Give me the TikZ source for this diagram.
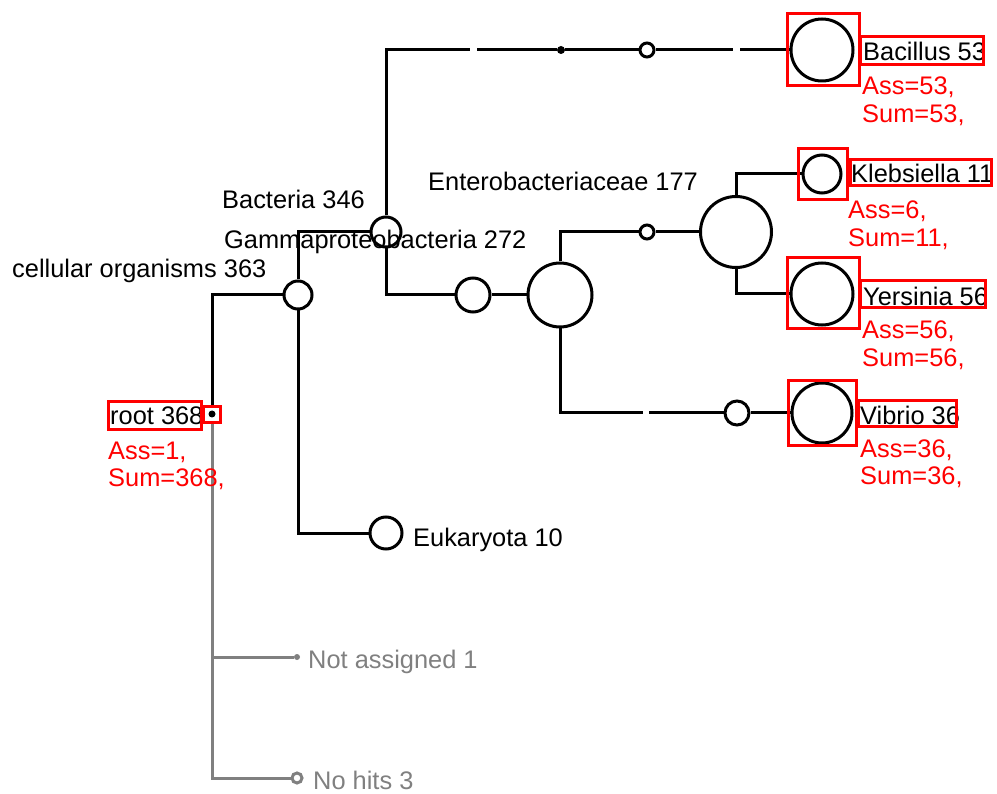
\documentclass[tikz,border=0pt]{standalone}
\usepackage{fontspec}
\setmainfont{Liberation Sans}
\definecolor{boxred}{RGB}{255,0,0}
\definecolor{hitgray}{RGB}{128,128,128}
\tikzset{
  tn/.style={circle, draw=black, line width=3pt, fill=white, inner sep=0pt},
  conn/.style={draw=black, line width=3pt},
  gconn/.style={draw=hitgray, line width=3pt},
  lbl/.style={anchor=base west, inner sep=0pt, font=\fontsize{25.4}{28}\selectfont},
  rlbl/.style={lbl, text=boxred},
  glbl/.style={lbl, text=hitgray},
  redbox/.style={draw=boxred, line width=3pt},
}
\begin{document}
\begin{tikzpicture}[x=1pt,y=-1pt]
\useasboundingbox (0,0) rectangle (997,794);
% nodes
\node[minimum size=15pt, inner sep=0pt] (root) at (212,414) {};
\node[tn, minimum size=28pt] (co) at (298,295) {};
\node[tn, minimum size=30pt] (bac) at (386,232) {};
\node[tn, minimum size=32pt] (euk) at (386,533) {};
\node[tn, minimum size=34pt] (gam) at (473,295) {};
\node[tn, minimum size=64pt] (ebl) at (560,295) {};
\node[circle, fill=black, inner sep=0pt, minimum size=8pt] (n1) at (561,50) {};
\node[tn, minimum size=14pt] (n2) at (647,50) {};
\node[tn, minimum size=62pt] (bacillus) at (822,50) {};
\node[tn, minimum size=14pt] (n3) at (647,232) {};
\node[tn, minimum size=71pt] (ent) at (736,232) {};
\node[tn, minimum size=38pt] (kleb) at (822,174) {};
\node[tn, minimum size=62pt] (yer) at (822,294) {};
\node[tn, minimum size=24pt] (n4) at (737,413) {};
\node[tn, minimum size=60pt] (vib) at (822,413) {};
\node[circle, fill=hitgray, inner sep=0pt, minimum size=6pt] (na) at (297,657) {};
\node[circle, draw=hitgray, line width=3pt, fill=white, inner sep=0pt, minimum size=10pt] (nh) at (297,778) {};
% gap coordinates
\coordinate (g1) at (470,50);
\coordinate (g2) at (477,50);
\coordinate (g3) at (733,50);
\coordinate (g4) at (740,50);
\coordinate (g5) at (643,413);
\coordinate (g6) at (649,413);
% connectors
\draw[gconn] (root.south) |- (na.west);
\draw[gconn] (root.south) |- (nh.west);
\draw[conn] (root.north) |- (co.west);
\draw[conn] (co.north) |- (bac.west);
\draw[conn] (co.south) |- (euk.west);
\draw[conn] (bac.north) |- (g1);
\draw[conn] (g2) -- (n1);
\draw[conn] (n1) -- (n2.west);
\draw[conn] (n2.east) -- (g3);
\draw[conn] (g4) -- (bacillus.west);
\draw[conn] (bac.south) |- (gam.west);
\draw[conn] (gam.east) -- (ebl.west);
\draw[conn] (ebl.north) |- (n3.west);
\draw[conn] (n3.east) -- (ent.west);
\draw[conn] (ebl.south) |- (g5);
\draw[conn] (g6) -- (n4.west);
\draw[conn] (n4.east) -- (vib.west);
\draw[conn] (ent.north) |- (kleb.west);
\draw[conn] (ent.south) |- (yer.west);
% root marker
\fill[black] (root.center) circle (3.5pt);
\draw[redbox] (203,407) rectangle (220,423);
% red boxes around leaf circles
\draw[redbox] (787,14) rectangle (859,86);
\draw[redbox] (798,149) rectangle (847,200);
\draw[redbox] (787,258) rectangle (859,329);
\draw[redbox] (788,381) rectangle (856,446);
% labels
\node[lbl] (lroot) at (110,425) {root 368};
\draw[redbox] (108,402) rectangle (201,430);
\node[rlbl] (lroota) at (108,460) {Ass=1,};
\node[rlbl] (lroots) at (108,486) {Sum=368,};
\node[lbl] (lco) at (12,278) {cellular organisms 363};
\node[lbl] (lbac) at (222,209) {Bacteria 346};
\node[lbl] (lgam) at (224,249) {Gammaproteobacteria 272};
\node[lbl] (lent) at (428,191) {Enterobacteriaceae 177};
\node[lbl] (leuk) at (413,546) {Eukaryota 10};
\node[glbl] (lna) at (308,668) {Not assigned 1};
\node[glbl] (lnh) at (313,789) {No hits 3};
\node[lbl] (lbacillus) at (863,61) {Bacillus 53};
\draw[redbox] (860,37) rectangle (983,65);
\node[rlbl] at (862,95) {Ass=53,};
\node[rlbl] at (862,123) {Sum=53,};
\node[lbl] (lkleb) at (851,183) {Klebsiella 11};
\draw[redbox] (850,160) rectangle (991,186);
\node[rlbl] at (848,219) {Ass=6,};
\node[rlbl] at (848,247) {Sum=11,};
\node[lbl] (lyer) at (863,306) {Yersinia 56};
\draw[redbox] (860,281) rectangle (985,308);
\node[rlbl] at (862,339) {Ass=56,};
\node[rlbl] at (862,367) {Sum=56,};
\node[lbl] (lvib) at (860,425) {Vibrio 36};
\draw[redbox] (858,401) rectangle (956,427);
\node[rlbl] at (860,457) {Ass=36,};
\node[rlbl] at (860,485) {Sum=36,};
\end{tikzpicture}
\end{document}
